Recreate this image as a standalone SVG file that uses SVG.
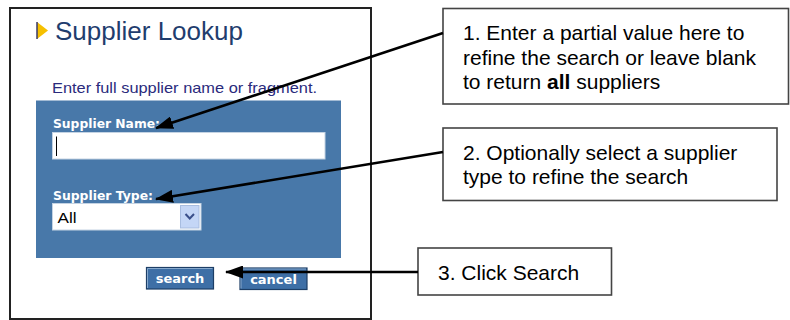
<svg xmlns="http://www.w3.org/2000/svg" width="790" height="320" viewBox="0 0 790 320">
<style>
.frame{fill:#fff;stroke:#222;stroke-width:2}
.callout{fill:#fff;stroke:#444;stroke-width:1.6}
.ct{font-family:"Liberation Sans",Arial,sans-serif;font-size:21px;fill:#000}
.lbl{font-family:"DejaVu Sans",Verdana,sans-serif;font-weight:bold;font-size:12px;fill:#fff}
.btn{fill:#3e6fa6;stroke:#1d3e66;stroke-width:1.2}
.btnhl{fill:none;stroke:#86a8cc;stroke-width:1}
.btxt{font-family:"DejaVu Sans",Verdana,sans-serif;font-weight:bold;font-size:13px;fill:#fff}
.conn{stroke:#000;stroke-width:2.6;fill:none;marker-end:url(#ah)}
</style>
<defs>
<marker id="ah" markerUnits="userSpaceOnUse" markerWidth="18" markerHeight="13" viewBox="0 0 18 13" refX="17" refY="6.5" orient="auto">
<path d="M0,0 L18,6.5 L0,13 Z" fill="#000"/>
</marker>
</defs>
<rect width="790" height="320" fill="#fff"/>

<g id="screen">
<rect class="frame" x="10" y="8" width="361" height="311"/>
<g id="title">
<path d="M37,22 L48,30.5 L37,39 Z" fill="#f6c000"/>
<path d="M37,22 L37,39" stroke="#3a3a6a" stroke-width="1.5"/>
<text x="55" y="39.5" font-family="'Liberation Sans',Arial,sans-serif" font-size="25.5" fill="#1f3d6e" textLength="188" lengthAdjust="spacingAndGlyphs">Supplier Lookup</text>
</g>
<text x="52" y="92.5" font-family="'Liberation Sans',Arial,sans-serif" font-size="15" fill="#2a2a7c" textLength="265" lengthAdjust="spacingAndGlyphs">Enter full supplier name or fragment.</text>
<g id="panel">
<rect x="36" y="100.5" width="305" height="157.5" fill="#4878a9"/>
<text class="lbl" x="53" y="128" textLength="107" lengthAdjust="spacingAndGlyphs">Supplier Name:</text>
<rect x="52.5" y="132.5" width="272.5" height="26.5" fill="#fff" stroke="#c4d3e3" stroke-width="1"/>
<path d="M56.5,136.5 V156" stroke="#000" stroke-width="1"/>
<text class="lbl" x="53" y="200" textLength="100" lengthAdjust="spacingAndGlyphs">Supplier Type:</text>
<rect x="52.5" y="203.5" width="148.5" height="26.5" fill="#fff" stroke="#c4d3e3" stroke-width="1"/>
<text x="57.5" y="222.5" font-family="'Liberation Sans',Arial,sans-serif" font-size="14.5" fill="#000" textLength="19" lengthAdjust="spacingAndGlyphs">All</text>
<rect x="180.5" y="205.5" width="18.5" height="22.5" fill="#c4d6f6" stroke="#a8bde0" stroke-width="1"/>
<path d="M185.5,214 L189.75,218.5 L194,214" stroke="#3a4f8a" stroke-width="2" fill="none"/>
</g>
<g id="btn-search">
<rect class="btn" x="146.5" y="267.5" width="67" height="21.5"/>
<path class="btnhl" d="M147.5,288 V268.5 H212.5"/>
<text class="btxt" x="180" y="282.5" text-anchor="middle">search</text>
</g>
<g id="btn-cancel">
<rect class="btn" x="240" y="268" width="67" height="21.5"/>
<path class="btnhl" d="M241,288.5 V269 H306"/>
<text class="btxt" x="273.5" y="283.5" text-anchor="middle">cancel</text>
</g>
</g>

<g id="callout1">
<rect class="callout" x="443" y="8.5" width="345.5" height="95.5"/>
<text class="ct" x="463" y="40">1. Enter a partial value here to</text>
<text class="ct" x="463" y="64.5">refine the search or leave blank</text>
<text class="ct" x="463" y="89">to return <tspan font-weight="bold">all</tspan> suppliers</text>
</g>
<g id="callout2">
<rect class="callout" x="443" y="128" width="334" height="72.5"/>
<text class="ct" x="463" y="160">2. Optionally select a supplier</text>
<text class="ct" x="463" y="184">type to refine the search</text>
</g>
<g id="callout3">
<rect class="callout" x="418" y="248" width="193.5" height="47"/>
<text class="ct" x="438" y="280">3. Click Search</text>
</g>

<g id="connectors">
<line class="conn" x1="443" y1="33" x2="156" y2="128"/>
<line class="conn" x1="443" y1="152" x2="156" y2="199"/>
<line class="conn" x1="418" y1="272" x2="226" y2="272"/>
</g>
</svg>
